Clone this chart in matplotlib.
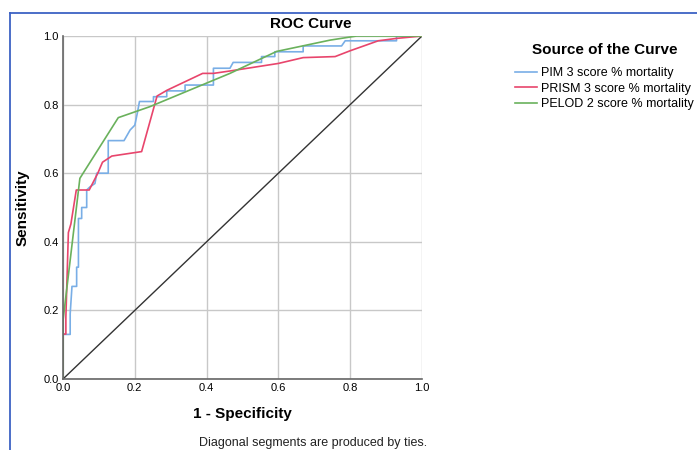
import matplotlib
matplotlib.use("Agg")
import matplotlib.pyplot as plt
from matplotlib.lines import Line2D

plt.rcParams['font.family'] = ['Liberation Sans', 'DejaVu Sans']

# ROC curves (1 - specificity, sensitivity)
pim_x = [0, 0, 0.02, 0.02, 0.025, 0.038, 0.038, 0.043, 0.043, 0.052, 0.052, 0.066, 0.066,
         0.075, 0.089, 0.094, 0.126, 0.126, 0.17, 0.187, 0.2, 0.207, 0.213, 0.252, 0.252,
         0.289, 0.289, 0.34, 0.34, 0.419, 0.419, 0.465, 0.474, 0.553, 0.553, 0.59, 0.59,
         0.669, 0.669, 0.776, 0.786, 0.929, 0.929, 1.0]
pim_y = [0, 0.13, 0.13, 0.19, 0.27, 0.27, 0.326, 0.326, 0.468, 0.468, 0.5, 0.5, 0.551,
         0.56, 0.57, 0.6, 0.6, 0.695, 0.695, 0.726, 0.74, 0.775, 0.809, 0.809, 0.823,
         0.823, 0.84, 0.84, 0.857, 0.857, 0.906, 0.906, 0.923, 0.923, 0.94, 0.94, 0.954,
         0.954, 0.971, 0.971, 0.986, 0.986, 1.0, 1.0]

prism_x = [0, 0, 0.008, 0.008, 0.015, 0.022, 0.037, 0.073, 0.097, 0.11, 0.136, 0.219,
           0.262, 0.29, 0.389, 0.419, 0.465, 0.6, 0.669, 0.758, 0.8, 0.878, 0.929, 1.0]
prism_y = [0, 0.131, 0.131, 0.18, 0.427, 0.452, 0.551, 0.551, 0.6, 0.632, 0.65, 0.663,
           0.825, 0.842, 0.891, 0.891, 0.898, 0.92, 0.937, 0.94, 0.957, 0.986, 0.993, 1.0]

pelod_x = [0, 0, 0.047, 0.154, 0.242, 0.465, 0.595, 0.744, 0.818, 1.0]
pelod_y = [0, 0.17, 0.585, 0.762, 0.794, 0.891, 0.955, 0.988, 1.0, 1.0]

labels = ['PIM 3 score % mortality', 'PRISM 3 score % mortality', 'PELOD 2 score % mortality']
colors = ['#79aee6', '#e8456c', '#6ab15c']
ticks = [0.0, 0.2, 0.4, 0.6, 0.8, 1.0]

fig = plt.figure(figsize=(6.97, 4.5), dpi=100)
W, H = 697.0, 450.0
ax = fig.add_axes([63 / W, 1 - 379 / H, (422 - 63) / W, (379 - 36) / H])

ax.plot(pim_x, pim_y, color=colors[0], lw=1.2, label=labels[0])
ax.plot(prism_x, prism_y, color=colors[1], lw=1.2, label=labels[1])
ax.plot(pelod_x, pelod_y, color=colors[2], lw=1.2, label=labels[2])
ax.plot([0, 1], [0, 1], color='#333333', lw=1.0, zorder=1)

ax.set_xlim(0, 1)
ax.set_ylim(0, 1)
ax.set_xticks(ticks)
ax.set_yticks(ticks)
ax.set_xticklabels(['%.1f' % t for t in ticks], fontsize=8)
ax.set_yticklabels(['%.1f' % t for t in ticks], fontsize=8)
ax.tick_params(length=0, pad=3)
ax.grid(True, color='#c8c8c8', lw=1.0)
ax.set_axisbelow(True)
for s in ['top', 'right']:
    ax.spines[s].set_visible(False)
for s in ['left', 'bottom']:
    ax.spines[s].set_color('#666666')
    ax.spines[s].set_linewidth(1.2)

ax.set_xlabel('1 - Specificity', fontsize=11, fontweight='bold', labelpad=10)
ax.set_ylabel('Sensitivity', fontsize=11, fontweight='bold', labelpad=10)

fig.text(311 / W, 1 - 24 / H, 'ROC Curve', fontsize=11, fontweight='bold',
         ha='center', va='center')
fig.text(199 / W, 1 - 443 / H, 'Diagonal segments are produced by ties.', fontsize=9,
         va='center', ha='left', color='#222222')

# legend
fig.text(605 / W, 1 - 50 / H, 'Source of the Curve', fontsize=11, fontweight='bold',
         ha='center', va='center')
leg = fig.legend(loc='upper left', bbox_to_anchor=(515 / W, 1 - 67 / H), frameon=False,
                 fontsize=9, handlelength=1.75, handletextpad=0.3, labelspacing=0.3,
                 borderpad=0, borderaxespad=0)

# blue frame around the output
fig.add_artist(Line2D([10 / W, 10 / W], [0, 1 - 13 / H], color='#3d62c4', lw=1.3))
fig.add_artist(Line2D([10 / W, 1], [1 - 13 / H, 1 - 13 / H], color='#3d62c4', lw=1.3))

fig.savefig('out.png', dpi=100)
